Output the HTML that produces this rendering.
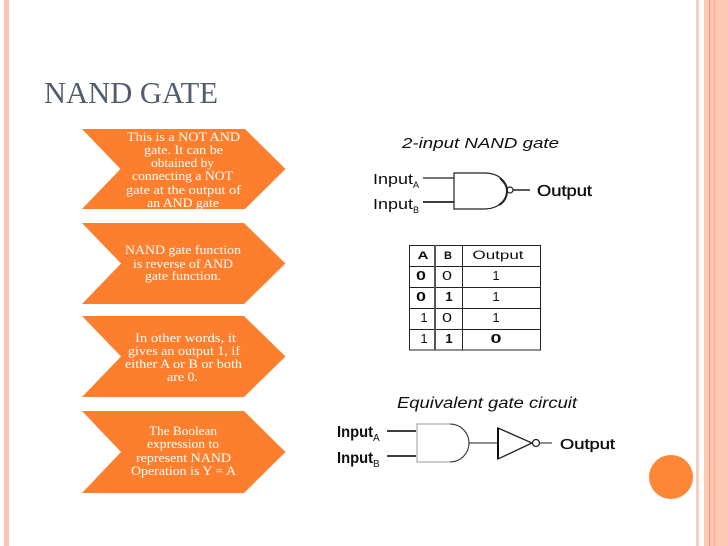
<!DOCTYPE html>
<html><head><meta charset="utf-8"><style>
html,body{margin:0;padding:0;background:#fff}
svg{display:block}
text{font-family:"Liberation Sans",sans-serif;fill:#111}
.s{font-family:"Liberation Serif",serif;fill:#fff;font-size:12.5px}
.n{font-size:13px;text-anchor:middle}
.b{stroke:#111;stroke-width:.35px}
</style></head><body>
<svg width="728" height="546" viewBox="0 0 728 546" xmlns="http://www.w3.org/2000/svg">
<defs><filter id="soft" x="-5%" y="-5%" width="110%" height="110%"><feGaussianBlur stdDeviation="0.35"/></filter></defs>
<rect width="728" height="546" fill="#fff"/>
<rect x="4" y="0" width="5" height="546" fill="#fdc5b3"/>
<rect x="696" y="0" width="3" height="546" fill="#f6cfc3"/>
<rect x="704" y="0" width="24" height="546" fill="#fdc8b6"/>
<rect x="709" y="0" width="1.2" height="546" fill="#ee9e70"/>
<rect x="713" y="0" width="3" height="546" fill="#f8bba7"/>
<circle cx="671" cy="477" r="22" fill="#fd8637"/>
<text x="44" y="103" textLength="174" lengthAdjust="spacingAndGlyphs" style="font-family:'Liberation Serif',serif;font-size:31px;fill:#515c6e">NAND GATE</text>

<g fill="#fd7f2e">
<polygon points="82,129 245,129 285.5,169 245,209 82,209 120.5,169"/>
<polygon points="82,223 244,223 285.5,263.5 244,304 82,304 121,263.5"/>
<polygon points="82,316 244,316 285.5,356.5 244,397 82,397 121,356.5"/>
<polygon points="82,411 244,411 285.5,452 244,493 82,493 121,452"/>
</g>
<g filter="url(#soft)">
<text class="s" x="127" y="141" textLength="113" lengthAdjust="spacingAndGlyphs">This is a NOT  AND</text>
<text class="s" x="144" y="154" textLength="79" lengthAdjust="spacingAndGlyphs">gate. It can be</text>
<text class="s" x="151" y="167" textLength="63" lengthAdjust="spacingAndGlyphs">obtained by</text>
<text class="s" x="132" y="180" textLength="101" lengthAdjust="spacingAndGlyphs">connecting a NOT</text>
<text class="s" x="126" y="194" textLength="115" lengthAdjust="spacingAndGlyphs">gate at the output of</text>
<text class="s" x="147" y="207" textLength="72" lengthAdjust="spacingAndGlyphs">an AND gate</text>

<text class="s" x="125" y="254" textLength="116" lengthAdjust="spacingAndGlyphs">NAND gate function</text>
<text class="s" x="133" y="268" textLength="100" lengthAdjust="spacingAndGlyphs">is reverse of AND</text>
<text class="s" x="145" y="280" textLength="76" lengthAdjust="spacingAndGlyphs">gate function.</text>

<text class="s" x="135" y="342" textLength="101" lengthAdjust="spacingAndGlyphs">In other words, it</text>
<text class="s" x="128" y="355" textLength="112" lengthAdjust="spacingAndGlyphs">gives an output 1, if</text>
<text class="s" x="125" y="368" textLength="117" lengthAdjust="spacingAndGlyphs">either A or B or both</text>
<text class="s" x="167" y="381" textLength="31" lengthAdjust="spacingAndGlyphs">are 0.</text>

<text class="s" x="149" y="435" textLength="68" lengthAdjust="spacingAndGlyphs">The Boolean</text>
<text class="s" x="147" y="448" textLength="72" lengthAdjust="spacingAndGlyphs">expression to</text>
<text class="s" x="136" y="462" textLength="95" lengthAdjust="spacingAndGlyphs">represent NAND</text>
<text class="s" x="131" y="475" textLength="105" lengthAdjust="spacingAndGlyphs">Operation is Y = A</text>
</g>

<g filter="url(#soft)">
<!-- NAND gate -->
<text x="402" y="148" textLength="157" lengthAdjust="spacingAndGlyphs" style="font-size:14.5px;font-style:italic">2-input NAND gate</text>
<text x="373" y="184" textLength="40" lengthAdjust="spacingAndGlyphs" style="font-size:15px">Input</text>
<text x="413" y="188" style="font-size:9px">A</text>
<text x="373" y="209" textLength="40" lengthAdjust="spacingAndGlyphs" style="font-size:15px">Input</text>
<text x="413" y="213" style="font-size:9px">B</text>
<text class="b" x="537" y="196" textLength="55" lengthAdjust="spacingAndGlyphs" style="font-size:15.5px">Output</text>
<g fill="none" stroke="#222" stroke-width="1.2">
<path d="M423 178H454"/>
<path d="M423 202H454" stroke-width="1.8"/>
<path d="M454 173H485C498 173 507 181 507 190.5C507 200 498 209 485 209H454Z"/>
<path d="M500 178C505 183 507 186 507 190.5C507 197 504 202 499 205" stroke-width="2"/>
<circle cx="510" cy="190" r="3"/>
<path d="M513 190H530" stroke-width="1.6"/>
</g>

<!-- table -->
<g fill="none" stroke="#222" stroke-width="1">
<rect x="409.5" y="245.5" width="131" height="104.500"/>
<path d="M409 266.500H541M409 287.500H541M409 308.500H541M409 329.500H541M462.500 245V350"/>
<path d="M435 245V350" stroke="#555" stroke-width="2"/>
</g>
<text class="n" x="423" y="259" textLength="11" lengthAdjust="spacingAndGlyphs" style="font-weight:bold;font-size:11px">A</text>
<text class="n" x="448" y="259" style="font-weight:bold;font-size:11px">B</text>
<text class="n" x="498" y="259" textLength="51" lengthAdjust="spacingAndGlyphs" style="font-size:11.500px">Output</text>
<text class="n" x="421" y="280" textLength="10" lengthAdjust="spacingAndGlyphs" style="font-weight:bold">0</text><text class="n" x="447" y="280" textLength="10" lengthAdjust="spacingAndGlyphs">0</text><text class="n" x="496" y="280">1</text>
<text class="n" x="421" y="301" textLength="10" lengthAdjust="spacingAndGlyphs" style="font-weight:bold">0</text><text class="n" x="449" y="301" style="font-weight:bold">1</text><text class="n" x="496" y="301">1</text>
<text class="n" x="424" y="322">1</text><text class="n" x="447" y="322" textLength="10" lengthAdjust="spacingAndGlyphs">0</text><text class="n" x="496" y="322">1</text>
<text class="n" x="424" y="343">1</text><text class="n" x="449" y="343" style="font-weight:bold">1</text><text class="n" x="496" y="343" textLength="11" lengthAdjust="spacingAndGlyphs" style="font-weight:bold">0</text>

<!-- equivalent -->
<text x="397" y="408" textLength="180" lengthAdjust="spacingAndGlyphs" style="font-size:15.500px;font-style:italic">Equivalent gate circuit</text>
<text x="337" y="437" textLength="36" lengthAdjust="spacingAndGlyphs" style="font-size:16px;font-weight:bold">Input</text>
<text x="373" y="441" style="font-size:10px">A</text>
<text x="337" y="463" textLength="36" lengthAdjust="spacingAndGlyphs" style="font-size:16px;font-weight:bold">Input</text>
<text x="373" y="467" style="font-size:10px">B</text>
<text class="b" x="560" y="449" textLength="55" lengthAdjust="spacingAndGlyphs" style="font-size:15px">Output</text>
<path d="M387 431H416M387 456H416" stroke="#222" stroke-width="1.800" fill="none"/>
<path d="M417 424H450C461 424 469 433 469 443C469 453 461 462 450 462H417Z" fill="#fff" stroke="#999" stroke-width="1"/>
<path d="M450 424C461 424 469 433 469 443C469 453 461 462 450 462" fill="none" stroke="#333" stroke-width="1"/>
<path d="M469 443H498M540 443H552" stroke="#222" stroke-width="1" fill="none"/>
<path d="M498 428L532 443L498 459Z" fill="#fff" stroke="#222" stroke-width="1.300"/>
<path d="M498 428V459" stroke="#111" stroke-width="2"/>
<circle cx="536" cy="443" r="3.500" fill="#fff" stroke="#222" stroke-width="1.300"/>
</g>
</svg>
</body></html>
